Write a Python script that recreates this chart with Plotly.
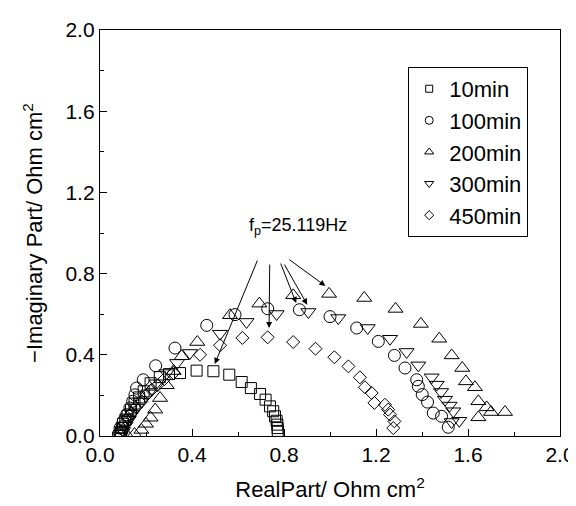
import plotly.graph_objects as go

# ---- data (Nyquist plots, Ohm cm^2) ----
series_names = ["10min", "100min", "200min", "300min", "450min"]

x_10 = [0.085, 0.09, 0.095, 0.10, 0.11, 0.12, 0.135, 0.15, 0.17, 0.19, 0.22, 0.26, 0.30, 0.348,
        0.42, 0.493, 0.562, 0.616, 0.656, 0.696, 0.720, 0.739, 0.753, 0.761, 0.768, 0.771, 0.772, 0.773]
y_10 = [0.0, 0.02, 0.04, 0.06, 0.08, 0.10, 0.13, 0.16, 0.19, 0.22, 0.26, 0.29, 0.305, 0.310,
        0.322, 0.319, 0.302, 0.266, 0.236, 0.207, 0.179, 0.146, 0.122, 0.097, 0.075, 0.056, 0.039, 0.025]

x_100 = [0.08, 0.087, 0.101, 0.116, 0.130, 0.142, 0.152, 0.159, 0.188, 0.242, 0.326, 0.464, 0.587,
         0.729, 0.867, 1.0, 1.116, 1.21, 1.28, 1.326, 1.377, 1.384, 1.401, 1.424, 1.449, 1.485, 1.514]
y_100 = [0.01, 0.039, 0.072, 0.105, 0.138, 0.171, 0.203, 0.236, 0.277, 0.346, 0.433, 0.545, 0.598,
         0.627, 0.622, 0.588, 0.532, 0.466, 0.397, 0.335, 0.277, 0.245, 0.204, 0.167, 0.113, 0.097, 0.043]

x_200 = [0.12, 0.15, 0.18, 0.20, 0.22, 0.24, 0.261, 0.29, 0.32, 0.355, 0.423, 0.565, 0.693, 0.840,
         0.996, 1.149, 1.285, 1.395, 1.475, 1.529, 1.575, 1.591, 1.630, 1.645, 1.681, 1.700, 1.761, 1.645]
y_200 = [0.0, 0.01, 0.03, 0.06, 0.09, 0.13, 0.187, 0.25, 0.32, 0.393, 0.463, 0.595, 0.652, 0.693,
         0.700, 0.680, 0.626, 0.552, 0.479, 0.397, 0.335, 0.269, 0.240, 0.171, 0.141, 0.118, 0.118, 0.092]

x_300 = [0.09, 0.10, 0.11, 0.125, 0.14, 0.16, 0.18, 0.21, 0.245, 0.29, 0.335, 0.391, 0.522, 0.637,
         0.768, 0.906, 1.036, 1.164, 1.261, 1.333, 1.384, 1.442, 1.464, 1.483, 1.5, 1.52, 1.536, 1.529, 1.562]
y_300 = [0.0, 0.025, 0.05, 0.08, 0.11, 0.14, 0.17, 0.21, 0.26, 0.31, 0.36, 0.409, 0.504, 0.562,
         0.601, 0.611, 0.581, 0.532, 0.479, 0.414, 0.348, 0.289, 0.253, 0.217, 0.179, 0.15, 0.122, 0.069, 0.075]

x_450 = [0.09, 0.10, 0.109, 0.12, 0.137, 0.155, 0.181, 0.20, 0.225, 0.25, 0.28, 0.319, 0.435, 0.522,
         0.619, 0.729, 0.840, 0.937, 1.019, 1.080, 1.130, 1.152, 1.181, 1.193, 1.239, 1.253, 1.261, 1.280, 1.275]
y_450 = [0.0, 0.03, 0.064, 0.09, 0.113, 0.14, 0.171, 0.20, 0.228, 0.25, 0.28, 0.310, 0.400, 0.447,
         0.483, 0.486, 0.463, 0.430, 0.388, 0.343, 0.289, 0.240, 0.212, 0.163, 0.154, 0.130, 0.105, 0.072, 0.039]

# characteristic-frequency points (arrow heads) and arrow tails
peak_x = [0.499, 0.735, 0.853, 0.901, 0.980]
peak_y = [0.355, 0.532, 0.655, 0.647, 0.739]
tail_x = [0.687, 0.738, 0.783, 0.798, 0.817]
tail_y = [0.872, 0.852, 0.857, 0.852, 0.874]

x_ticks = [0.0, 0.4, 0.8, 1.2, 1.6, 2.0]
y_ticks = [0.0, 0.4, 0.8, 1.2, 1.6, 2.0]

xs = [x_10, x_100, x_200, x_300, x_450]
ys = [y_10, y_100, y_200, y_300, y_450]
symbols = ["square-open", "circle-open", "triangle-up-open", "triangle-down-open", "diamond-open"]
sizes = [11, 12, 13, 13, 10]
legend_sizes = [7, 8, 8, 8, 7]

FONT = "Liberation Sans, Arial, Helvetica, sans-serif"

fig = go.Figure()
for name, x, y, sym, s in zip(series_names, xs, ys, symbols, sizes):
    fig.add_trace(go.Scatter(x=x, y=y, mode="markers", name=name, showlegend=False,
                             marker=dict(symbol=sym, size=s, color="black",
                                         line=dict(color="black", width=1))))
for name, sym, s in zip(series_names, symbols, legend_sizes):
    fig.add_trace(go.Scatter(x=[None], y=[None], mode="markers", name=name, showlegend=True,
                             marker=dict(symbol=sym, size=s, color="black",
                                         line=dict(color="black", width=1))))

for hx, hy, tx, ty in zip(peak_x, peak_y, tail_x, tail_y):
    fig.add_annotation(x=hx, y=hy, ax=tx, ay=ty, xref="x", yref="y", axref="x", ayref="y",
                       showarrow=True, arrowhead=2, arrowsize=1.2, arrowwidth=1,
                       arrowcolor="black", standoff=0, text="")

fig.add_annotation(x=0.861, y=1.03, xref="x", yref="y", showarrow=False,
                   text="f<sub>p</sub>=25.119Hz", font=dict(size=18, color="black", family=FONT))

axis_common = dict(showline=True, linecolor="black", linewidth=1.3, mirror=True,
                   ticks="inside", ticklen=7, tickwidth=1, tickcolor="black",
                   showgrid=False, zeroline=False,
                   tickfont=dict(size=21, color="black", family=FONT),
                   minor=dict(ticks="inside", ticklen=4, tickwidth=1, tickcolor="black", dtick=0.2))

fig.update_xaxes(range=[0, 2.0], tickvals=x_ticks, ticktext=[f"{v:.1f}" for v in x_ticks],
                 title=dict(text="RealPart/ Ohm cm<sup>2</sup>", font=dict(size=22, color="black", family=FONT),
                            standoff=16),
                 **axis_common)
fig.update_yaxes(range=[0, 2.0], tickvals=y_ticks, ticktext=[f"{v:.1f}" for v in y_ticks],
                 title=dict(text="\u2212Imaginary Part/ Ohm cm<sup>2</sup>",
                            font=dict(size=22, color="black", family=FONT), standoff=16),
                 **axis_common)

fig.update_layout(
    width=576, height=506,
    margin=dict(l=92, r=24, t=22, b=78, autoexpand=False),
    paper_bgcolor="white", plot_bgcolor="white",
    font=dict(family=FONT, color="black"),
    legend=dict(x=0.67, y=0.909, xanchor="left", yanchor="top",
                bordercolor="black", borderwidth=1, bgcolor="white",
                font=dict(size=22, color="black", family=FONT),
                itemsizing="trace", tracegroupgap=0),
)

fig.write_html("out.html")
